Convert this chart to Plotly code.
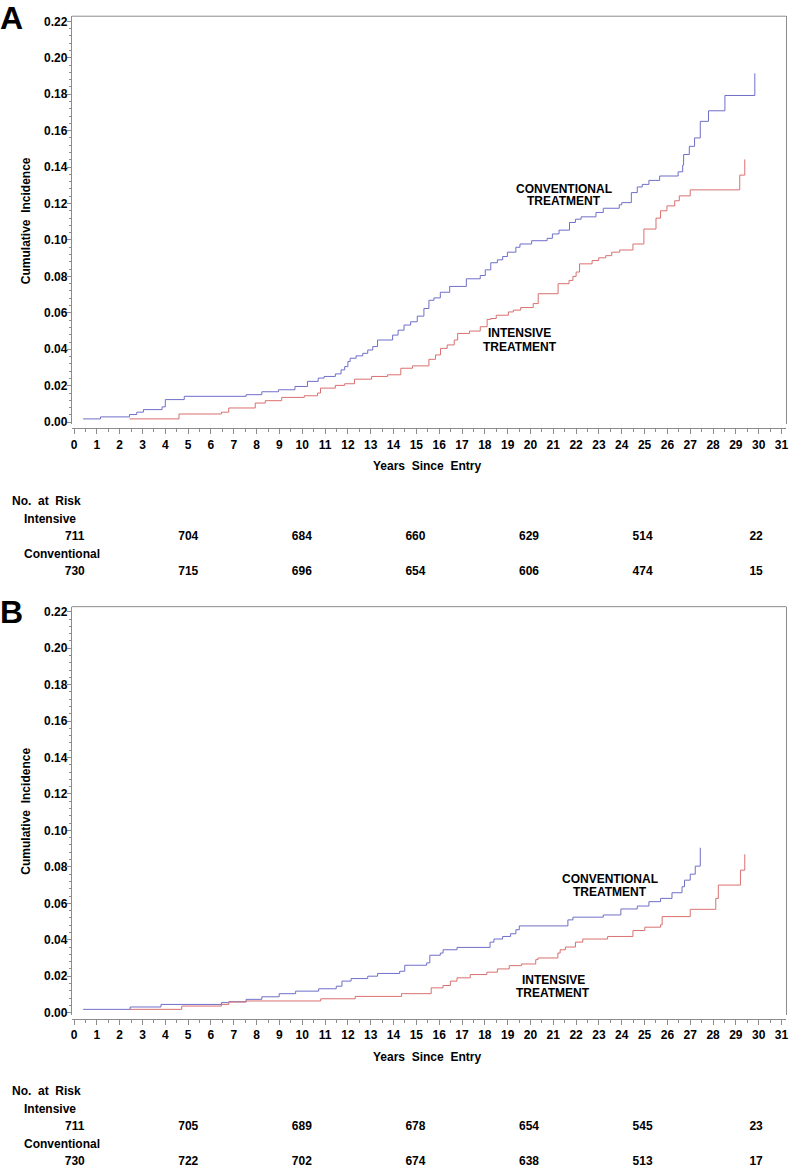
import plotly.graph_objects as go

W, H = 792, 1172

# panel A step curves: event times (years) and cumulative incidence
a_conv_t = [0.4, 1.16, 2.43, 2.75, 3.04, 3.86, 4.0, 4.83, 7.54, 8.23, 8.96, 9.68, 10.23, 10.7, 10.96,
            11.45, 11.7, 11.86, 12.0, 12.1, 12.36, 12.65, 12.87, 13.09, 13.3, 13.96, 14.2, 14.46,
            14.75, 15.04, 15.33, 15.55, 15.77, 16.05, 16.46, 17.19, 17.8, 18.02, 18.26, 18.55,
            18.78, 18.99, 19.36, 19.54, 20.05, 20.73, 20.96, 21.25, 21.71, 21.97, 22.22, 22.87,
            23.19, 23.89, 24.0, 24.42, 24.68, 24.9, 25.19, 25.66, 26.47, 26.67, 26.71, 26.96,
            27.19, 27.44, 27.8, 28.52, 29.83]
a_conv_v = [0.0018, 0.0029, 0.0042, 0.0055, 0.0069, 0.0084, 0.0124, 0.0142, 0.0151, 0.0167, 0.0178,
            0.0196, 0.0224, 0.0242, 0.0251, 0.0265, 0.0287, 0.0305, 0.0333, 0.0351, 0.0364, 0.0378,
            0.0396, 0.0415, 0.0451, 0.0478, 0.0505, 0.0533, 0.0551, 0.0582, 0.0624, 0.0669, 0.0682,
            0.0713, 0.0745, 0.0787, 0.0805, 0.0836, 0.0875, 0.0891, 0.0909, 0.0933, 0.0960, 0.0978,
            0.0996, 0.1009, 0.1033, 0.1054, 0.1096, 0.1114, 0.1127, 0.1151, 0.1174, 0.1193, 0.1205,
            0.1260, 0.1291, 0.1305, 0.1327, 0.1351, 0.1374, 0.1411, 0.1469, 0.1514, 0.1560, 0.1651,
            0.1709, 0.1793, 0.1914]
a_int_t = [2.43, 4.6, 6.46, 6.78, 7.94, 8.38, 9.1, 10.09, 10.67, 10.8, 11.45, 11.86, 12.29, 13.04,
           13.74, 14.32, 14.83, 15.55, 15.84, 16.06, 16.35, 16.66, 16.81, 17.33, 17.8, 18.1, 18.26,
           18.5, 19.03, 19.25, 19.57, 20.12, 20.34, 21.21, 21.69, 21.86, 22.0, 22.15, 22.7, 22.99,
           23.3, 23.56, 23.91, 24.49, 24.97, 25.5, 25.7, 25.98, 26.32, 26.52, 27.0, 29.17, 29.39]
a_int_v = [0.0018, 0.0045, 0.0055, 0.0078, 0.0105, 0.0118, 0.0136, 0.0145, 0.0160, 0.0187, 0.0202,
           0.0211, 0.0236, 0.0251, 0.0260, 0.0296, 0.0309, 0.0345, 0.0369, 0.0405, 0.0424, 0.0451,
           0.0487, 0.0500, 0.0524, 0.0564, 0.0569, 0.0587, 0.0605, 0.0615, 0.0629, 0.0651, 0.0705,
           0.0760, 0.0778, 0.0800, 0.0824, 0.0869, 0.0887, 0.0902, 0.0914, 0.0933, 0.0945, 0.0978,
           0.1060, 0.1120, 0.1160, 0.1187, 0.1215, 0.1242, 0.1275, 0.1356, 0.1442]

# panel B
b_conv_t = [0.4, 2.46, 3.81, 6.46, 6.78, 7.54, 8.23, 8.99, 9.71, 10.72, 11.49, 11.74, 12.14, 12.87,
            13.3, 14.27, 14.49, 15.45, 15.59, 16.05, 16.17, 16.78, 18.23, 18.4, 18.78, 19.13, 19.36,
            19.51, 21.64, 21.86, 23.19, 23.96, 24.68, 25.19, 25.7, 26.2, 26.64, 26.75, 27.0, 27.22,
            27.44]
b_conv_v = [0.0018, 0.0031, 0.0045, 0.0055, 0.0060, 0.0073, 0.0087, 0.0104, 0.0118, 0.0131, 0.0145,
            0.0173, 0.0187, 0.0200, 0.0215, 0.0227, 0.0260, 0.0273, 0.0315, 0.0327, 0.0345, 0.0358,
            0.0387, 0.0404, 0.0418, 0.0433, 0.0455, 0.0476, 0.0509, 0.0524, 0.0536, 0.0569, 0.0585,
            0.0609, 0.0627, 0.0658, 0.0691, 0.0727, 0.0760, 0.0804, 0.0905]
b_int_t = [2.43, 4.72, 6.46, 6.78, 7.54, 10.81, 12.32, 14.35, 15.65, 16.17, 16.49, 16.78, 17.36,
           18.09, 18.55, 19.07, 19.61, 20.23, 20.33, 21.2, 21.3, 21.53, 21.97, 22.29, 23.38, 24.49,
           25.01, 25.7, 25.77, 27.0, 28.12, 28.23, 29.2, 29.39]
b_int_v = [0.0018, 0.0036, 0.0045, 0.0058, 0.0064, 0.0076, 0.0089, 0.0104, 0.0136, 0.0149, 0.0173,
           0.0191, 0.0209, 0.0222, 0.0240, 0.0258, 0.0267, 0.0291, 0.0300, 0.0327, 0.0345, 0.0360,
           0.0387, 0.0404, 0.0418, 0.0451, 0.0469, 0.0482, 0.0527, 0.0567, 0.0627, 0.0700, 0.0782,
           0.0869]

# numbers at risk
risk_years = [0, 5, 10, 15, 20, 25, 30]
risk_groups = ["Intensive", "Conventional"]
a_risk_int = [711, 704, 684, 660, 629, 514, 22]
a_risk_conv = [730, 715, 696, 654, 606, 474, 15]
b_risk_int = [711, 705, 689, 678, 654, 545, 23]
b_risk_conv = [730, 722, 702, 674, 638, 513, 17]

BLUE = "#6f6fc9"
RED = "#d9706f"
GRAY = "#8c8c8c"
FONT = "Arial, Liberation Sans, sans-serif"


def py(px):
    return 1 - px / H


def bold(size):
    return dict(family=FONT, size=size, color="black", weight="bold")


fig = go.Figure()

# (axis suffix, curves, risk rows, vertical offset, letter, letter centre)
panels = [
    ("", (a_conv_t, a_conv_v), (a_int_t, a_int_v), (a_risk_int, a_risk_conv), 0, "A", 16),
    ("2", (b_conv_t, b_conv_v), (b_int_t, b_int_v), (b_risk_int, b_risk_conv), 594, "B", 614),
]

for i, (s, conv, inten, risk, off, letter, lety) in enumerate(panels):
    xa, ya = "x" + s, "y" + s
    fig.add_trace(go.Scatter(x=conv[0], y=conv[1], mode="lines", line=dict(color=BLUE, width=1, shape="hv"),
                             xaxis=xa, yaxis=ya, showlegend=False))
    fig.add_trace(go.Scatter(x=inten[0], y=inten[1], mode="lines", line=dict(color=RED, width=1, shape="hv"),
                             xaxis=xa, yaxis=ya, showlegend=False))

    tx, ty = "x" + str(3 + i), "y" + str(3 + i)
    for grp, vals in zip(risk_groups, risk):
        fig.add_trace(go.Scatter(x=risk_years, y=[grp] * len(vals), mode="text",
                                 text=[str(v) for v in vals], textfont=bold(12),
                                 xaxis=tx, yaxis=ty, showlegend=False, hoverinfo="skip"))

    axis_common = dict(showline=True, linecolor=GRAY, linewidth=1, showgrid=False, zeroline=False,
                       ticks="outside", tickcolor=GRAY, tickfont=bold(12))
    fig.update_layout(**{
        "xaxis" + s: dict(axis_common, domain=[71 / W, 788.3 / W], range=[-0.1, 31.21],
                          anchor="free", position=py(429 + off), tickmode="linear", tick0=0, dtick=1,
                          ticklen=5,
                          minor=dict(dtick=0.5, ticklen=3, ticks="outside", tickcolor=GRAY)),
        "yaxis" + s: dict(axis_common, domain=[py(425 + off), py(14.3 + off)],
                          range=[-0.00125, 0.2228], anchor="x" + s, mirror=True,
                          tickmode="linear", tick0=0, dtick=0.02, tickformat=".2f", ticklen=4,
                          ticklabelstandoff=-3,
                          minor=dict(dtick=0.004, ticklen=2, ticks="outside", tickcolor=GRAY)),
    })
    fig.add_shape(type="line", xref="x" + s + " domain", yref="y" + s + " domain",
                  x0=0, x1=1, y0=1, y1=1, line=dict(color=GRAY, width=1))

    # hidden scale for the risk table (rows 35 px apart)
    top, bot = 490 + off, min(590 + off, H)
    row0 = 538 + off
    fig.update_layout(**{
        "xaxis" + str(3 + i): dict(domain=[0, 1], range=[-74 / 22.8, (W - 74) / 22.8], visible=False,
                                   anchor="y" + str(3 + i)),
        "yaxis" + str(3 + i): dict(domain=[py(bot), py(top)], type="category", categoryarray=risk_groups,
                                   range=[(bot - row0) / 35, (top - row0) / 35],
                                   visible=False, anchor="x" + str(3 + i)),
    })

    fig.add_annotation(text=letter, x=-3 / W, y=py(lety), xref="paper", yref="paper",
                       xanchor="left", yanchor="middle", showarrow=False, font=bold(32))
    fig.add_annotation(text="Cumulative  Incidence", textangle=-90, x=25 / W, y=py(219.6 + off),
                       xref="paper", yref="paper", xanchor="center", yanchor="middle",
                       showarrow=False, font=bold(12))
    fig.add_annotation(text="Years  Since  Entry", x=428 / W, y=py(467 + off),
                       xref="paper", yref="paper", xanchor="center", yanchor="middle",
                       showarrow=False, font=bold(12))
    for txt, xp, yp in [("No.  at  Risk", 9, 502), ("Intensive", 21, 520), ("Conventional", 21, 555)]:
        fig.add_annotation(text=txt, x=xp / W, y=py(yp + off), xref="paper", yref="paper",
                           xanchor="left", yanchor="middle", showarrow=False, font=bold(12))

# curve labels, one annotation per line
for txt, x, y, s in [
    ("CONVENTIONAL", 21.49, 0.1282, ""), ("TREATMENT", 21.49, 0.1215, ""),
    ("INTENSIVE", 19.52, 0.0488, ""), ("TREATMENT", 19.52, 0.0415, ""),
    ("CONVENTIONAL", 23.49, 0.0731, "2"), ("TREATMENT", 23.49, 0.0661, "2"),
    ("INTENSIVE", 21.0, 0.0180, "2"), ("TREATMENT", 21.0, 0.0110, "2"),
]:
    fig.add_annotation(text=txt, x=x, y=y, xref="x" + s, yref="y" + s, showarrow=False, font=bold(12))

fig.update_layout(width=W, height=H, margin=dict(l=0, r=0, t=0, b=0),
                  plot_bgcolor="white", paper_bgcolor="white", showlegend=False)

fig.write_html("out.html", config={"displayModeBar": False},
               post_script="document.body.style.margin='0px';document.body.style.overflow='hidden';")
